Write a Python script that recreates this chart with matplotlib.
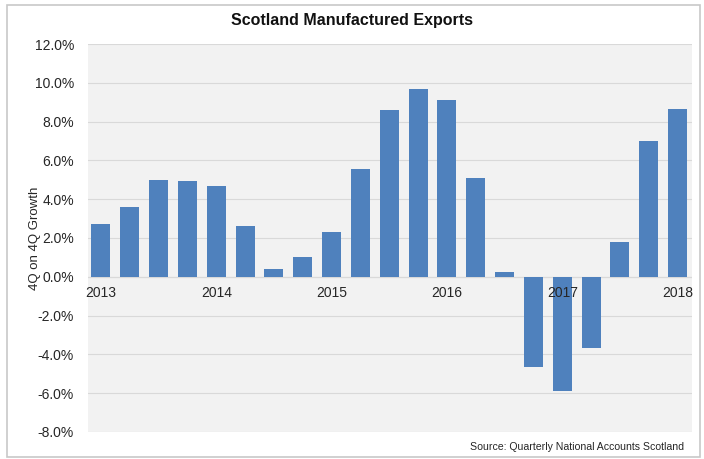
import matplotlib
matplotlib.use("Agg")
import matplotlib.pyplot as plt
from matplotlib.patches import Rectangle

plt.rcParams['font.family'] = ['Liberation Sans', 'DejaVu Sans']

quarters = ['2013 Q1', '2013 Q2', '2013 Q3', '2013 Q4',
            '2014 Q1', '2014 Q2', '2014 Q3', '2014 Q4',
            '2015 Q1', '2015 Q2', '2015 Q3', '2015 Q4',
            '2016 Q1', '2016 Q2', '2016 Q3', '2016 Q4',
            '2017 Q1', '2017 Q2', '2017 Q3', '2017 Q4',
            '2018 Q1']
growth = [2.73, 3.62, 4.98, 4.93, 4.66, 2.63, 0.42, 1.03, 2.33, 5.57,
          8.58, 9.66, 9.13, 5.10, 0.26, -4.64, -5.88, -3.66, 1.80, 6.98, 8.67]
year_labels = ['2013', '2014', '2015', '2016', '2017', '2018']
yticks = [-8, -6, -4, -2, 0, 2, 4, 6, 8, 10, 12]

fig = plt.figure(figsize=(7.04, 4.59), dpi=100)
fig.patches.append(Rectangle((0.010, 0.005), 0.985, 0.985, transform=fig.transFigure,
                             fill=False, edgecolor='#c8c8c8', linewidth=1.2))
ax = fig.add_axes([0.125, 0.059, 0.858, 0.845])
ax.set_facecolor('#f2f2f2')

x = list(range(len(growth)))
ax.bar(x, growth, width=0.66, color='#4F81BD', zorder=3)

ax.set_ylim(-8, 12)
ax.set_xlim(-0.45, 20.5)
ax.set_yticks(yticks)
ax.set_yticklabels([f'{v:.1f}%' for v in yticks], fontsize=10, color='#262626')
ax.yaxis.grid(True, color='#d9d9d9', linewidth=0.8, zorder=0)
ax.tick_params(axis='y', length=0, pad=10)
ax.tick_params(axis='x', length=0, labelbottom=False)
for s in ax.spines.values():
    s.set_visible(False)
ax.axhline(0, color='#d9d9d9', linewidth=0.8, zorder=1)

for i, lab in enumerate(year_labels):
    ax.text(i * 4, -0.45, lab, ha='center', va='top', fontsize=10, color='#262626', zorder=4)

ax.set_ylabel('4Q on 4Q Growth', fontsize=9.5, color='#262626')
ax.yaxis.set_label_coords(-0.077, 0.5)
fig.text(0.5, 0.955, 'Scotland Manufactured Exports', ha='center', va='center',
         fontsize=11.5, fontweight='bold', color='#111111')
fig.text(0.972, 0.026, 'Source: Quarterly National Accounts Scotland', ha='right',
         va='center', fontsize=7.6, color='#262626')

fig.savefig('out.png', dpi=100)
